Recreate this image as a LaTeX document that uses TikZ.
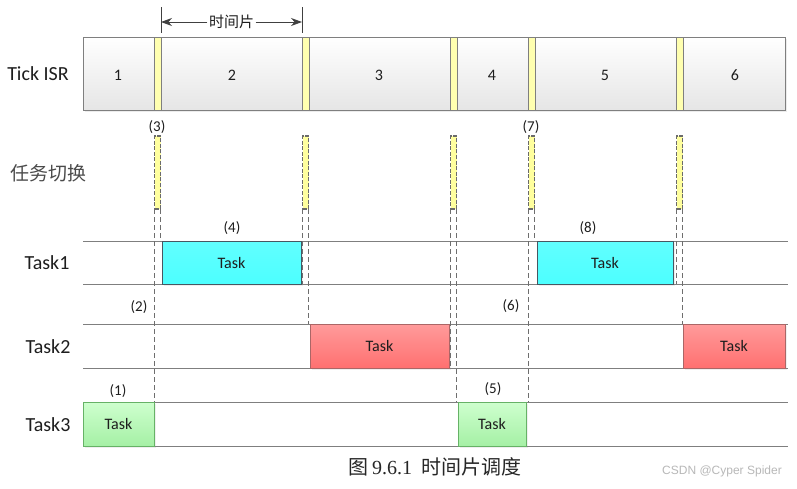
\documentclass[tikz,border=0pt]{standalone}
\usepackage{fontspec}
\setmainfont{Carlito}
\newfontfamily\cjk{Noto Sans CJK SC}
\newfontfamily\capserif{Liberation Serif}
\newfontfamily\wmfont{Liberation Sans}
\usetikzlibrary{arrows.meta,shadows}
\definecolor{edge}{HTML}{7F7F7F}
\definecolor{dash}{HTML}{6E6E6E}
\definecolor{ybar}{HTML}{FFFFB0}
\definecolor{ysw}{HTML}{FFFF9E}
\definecolor{txt}{HTML}{1E1E1E}
\tikzset{
  lbl/.style={font=\fontsize{20}{24}\selectfont, text=txt},
  cjklbl/.style={font=\cjk\fontsize{19}{23}\selectfont, text=txt!80},
  num/.style={font=\fontsize{16}{19}\selectfont, text=txt},
  tag/.style={font=\fontsize{15}{18}\selectfont, text=txt},
  rbox/.style={anchor=north west, inner sep=0pt, outer sep=0pt, line width=1pt},
  isrbox/.style={rbox, draw=edge, top color=white, bottom color=black!10,
     drop shadow={opacity=0.15, shadow xshift=1.5pt, shadow yshift=-1.5pt}},
  isrbar/.style={rbox, draw=edge, fill=ybar, minimum width=7pt, minimum height=73pt},
  swbar/.style={rbox, draw=black!58, line width=1.3pt, dash pattern=on 4pt off 1.6pt, fill=ysw, minimum width=6pt, minimum height=73pt},
  taskbox/.style={rbox, font=\fontsize{16}{19}\selectfont, text=txt,
     drop shadow={opacity=0.12, shadow xshift=1.5pt, shadow yshift=-1.5pt}},
  cyanbox/.style={taskbox, draw=black!70!cyan, top color=cyan!62, bottom color=cyan!70},
  redbox/.style={taskbox, draw=black!55!red!60, top color={rgb,255:red,255;green,155;blue,155}, bottom color={rgb,255:red,255;green,112;blue,112}},
  greenbox/.style={taskbox, draw=black!50!green!60, top color={rgb,255:red,206;green,255;blue,206}, bottom color={rgb,255:red,165;green,240;blue,165}},
  rowline/.style={draw=edge, line width=1pt},
  guide/.style={draw=dash, line width=1pt, dash pattern=on 5pt off 3pt},
}
\begin{document}
\begin{tikzpicture}[x=1pt,y=-1pt]
\useasboundingbox (0,0) rectangle (797,488);
\fill[white] (0,0) rectangle (797,488);

% Tick ISR row
\node[isrbox, minimum width=702pt, minimum height=73pt] (isr) at (83,37) {};
\node[isrbar] (b1) at (154,37) {};
\node[isrbar] (b2) at (302,37) {};
\node[isrbar] (b3) at (450,37) {};
\node[isrbar] (b4) at (528,37) {};
\node[isrbar] (b5) at (676,37) {};
\node[num] (n1) at (118,75) {1};
\node[num] (n2) at (232,75) {2};
\node[num] (n3) at (379,75) {3};
\node[num] (n4) at (492,75) {4};
\node[num] (n5) at (605,75) {5};
\node[num] (n6) at (735,75) {6};

% time slice marker
\coordinate (tl) at (161,7);
\coordinate (tr) at (302,7);
\draw[draw=black!75, line width=0.8pt] (tl) -- ++(0,26);
\draw[draw=black!75, line width=0.8pt] (tr) -- ++(0,26);
\node[font=\cjk\fontsize{15}{18}\selectfont, text=txt, fill=white, inner sep=1.5pt] (ts) at (231.5,22) {时间片};
\coordinate (al) at (161,22);
\coordinate (ar) at (302,22);
\draw[draw=black!75, line width=0.8pt, -{Stealth[length=11pt,width=8pt]}] (ts.west) -- (al);
\draw[draw=black!75, line width=0.8pt, -{Stealth[length=11pt,width=8pt]}] (ts.east) -- (ar);

% row labels
\node[lbl] (lisr) at (38,74) {Tick ISR};
\node[cjklbl] (lsw) at (48,173) {任务切换};
\node[lbl] (lt1) at (47,263) {Task1};
\node[lbl] (lt2) at (48,347) {Task2};
\node[lbl] (lt3) at (48,425) {Task3};

% task switch bars
\node[swbar] (s1) at (154.5,136) {};
\node[swbar] (s2) at (302.5,136) {};
\node[swbar] (s3) at (450.5,136) {};
\node[swbar] (s4) at (528.5,136) {};
\node[swbar] (s5) at (676.5,136) {};

% row lines
\foreach \yy in {241,284,324,368,402,446} \draw[rowline] (83,\yy) -- (788,\yy);

% task boxes
\node[cyanbox, minimum width=139pt, minimum height=43pt] (t1a) at (162,241) {Task};
\node[cyanbox, minimum width=136pt, minimum height=43pt] (t1b) at (537,241) {Task};
\node[redbox, minimum width=139pt, minimum height=44pt] (t2a) at (310,324) {Task};
\node[redbox, minimum width=102pt, minimum height=44pt] (t2b) at (683,324) {Task};
\node[greenbox, minimum width=71pt, minimum height=44pt] (t3a) at (83,402) {Task};
\node[greenbox, minimum width=68pt, minimum height=44pt] (t3b) at (458,402) {Task};

% guide lines
\draw[guide] (s1.south west) -- (s1.south west |- t3a.north);
\draw[guide] (s1.south east) -- (s1.south east |- t1a.north);
\draw[guide] (s2.south west) -- (s2.south west |- t1a.south);
\draw[guide] (s2.south east) -- (s2.south east |- t2a.north);
\draw[guide] (s3.south west) -- (s3.south west |- t2a.south);
\draw[guide] (s3.south east) -- (s3.south east |- t3b.north);
\draw[guide] (s4.south west) -- (s4.south west |- t3b.north);
\draw[guide] (s4.south east) -- (s4.south east |- t1b.north);
\draw[guide] (s5.south west) -- (s5.south west |- t1b.south);
\draw[guide] (s5.south east) -- (s5.south east |- t2b.north);

% step labels
\node[tag] (p1) at (118,391) {(1)};
\node[tag] (p2) at (139,307) {(2)};
\node[tag] (p3) at (157,127) {(3)};
\node[tag] (p4) at (232,228) {(4)};
\node[tag] (p5) at (493,389) {(5)};
\node[tag] (p6) at (511,306) {(6)};
\node[tag] (p7) at (531,127) {(7)};
\node[tag] (p8) at (588,228) {(8)};

% caption and watermark
\node[font=\fontsize{20}{24}\selectfont, text=black!85] (cap) at (435,467) {{\cjk 图}\,{\capserif 9.6.1}\ \ {\cjk 时间片调度}};
\node[font=\wmfont\fontsize{12}{14}\selectfont, text=black!28] (wm) at (722,471) {CSDN @Cyper Spider};
\end{tikzpicture}
\end{document}
